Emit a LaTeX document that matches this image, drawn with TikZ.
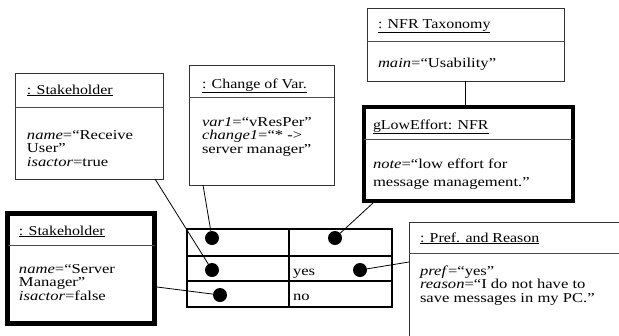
\documentclass[tikz,border=0pt]{standalone}
\usepackage{fontspec}
\setmainfont[FakeStretch=1.22]{Liberation Serif}
\newfontfamily\hdrfont[FakeStretch=1.17]{Liberation Serif}
\begin{document}
\begin{tikzpicture}[x=1pt,y=-1pt,
  obj/.style={draw=black!80, line width=0.9pt, inner sep=0pt, outer sep=0pt},
  thk/.style={draw=black, line width=4.5pt, inner sep=0pt, outer sep=0pt},
  hdr/.style={draw=black!70, line width=0.8pt},
  txt/.style={inner sep=0pt, outer sep=0pt, anchor=base west, font=\fontsize{13.6}{15}\selectfont},
  htxt/.style={txt, font=\fontsize{13.6}{15}\hdrfont},
  tbl/.style={draw=black, line width=2.2pt, inner sep=0pt, outer sep=0pt},
  tline/.style={draw=black, line width=2.2pt},
  dot/.style={circle, fill=black, inner sep=0pt, outer sep=0pt, minimum size=14pt},
  conn/.style={draw=black, line width=0.8pt}]
\useasboundingbox (0,0) rectangle (619,335);
\clip (0,0) rectangle (619,335);
\fill[white] (0,0) rectangle (619,335);

% Stakeholder (Receive User)
\node[obj, minimum width=148pt, minimum height=106pt] (sh1) at (89,126) {};
\draw[hdr] (sh1.west |- 0,107) -- (sh1.east |- 0,107);
\node[htxt] (sh1h) at (27,94) {\underline{: Stakeholder}};
\node[txt] (sh1a) at (27,139) {\textit{name}=“Receive};
\node[txt] (sh1b) at (27,152.5) {User”};
\node[txt] (sh1c) at (27,166) {\textit{isactor}=true};

% Change of Var.
\node[obj, minimum width=145pt, minimum height=120pt] (cov) at (261.5,125) {};
\draw[hdr] (cov.west |- 0,97) -- (cov.east |- 0,97);
\node[htxt] (covh) at (202,88) {\underline{: Change of Var.}};
\node[txt] (cova) at (202,126) {\textit{var1}=“vResPer”};
\node[txt] (covb) at (202,139.5) {\textit{change1}=“* ->};
\node[txt] (covc) at (202,153) {server manager”};

% NFR Taxonomy
\node[obj, minimum width=197pt, minimum height=73pt] (tax) at (465.5,44.5) {};
\draw[hdr] (tax.west |- 0,41) -- (tax.east |- 0,41);
\node[htxt] (taxh) at (378,28) {\underline{: NFR Taxonomy}};
\node[txt] (taxa) at (378,67) {\textit{main}=“Usability”};

% gLowEffort: NFR
\node[thk, minimum width=209pt, minimum height=94pt] (nfr) at (468.5,154) {};
\draw[hdr] (nfr.west |- 0,139) -- (nfr.east |- 0,139);
\node[htxt] (nfrh) at (373,129) {\underline{gLowEffort: NFR}};
\node[txt] (nfra) at (373,168) {\textit{note}=“low effort for};
\node[txt] (nfrb) at (373,186) {message management.”};

% Stakeholder (Server Manager)
\node[thk, minimum width=147pt, minimum height=110pt] (sh2) at (81,268.5) {};
\draw[hdr] (sh2.west |- 0,245) -- (sh2.east |- 0,245);
\node[htxt] (sh2h) at (19,235) {\underline{: Stakeholder}};
\node[txt] (sh2a) at (19,273) {\textit{name}=“Server};
\node[txt] (sh2b) at (19,286.5) {Manager”};
\node[txt] (sh2c) at (19,300) {\textit{isactor}=false};

% Pref. and Reason (runs off the picture)
\node[obj, minimum width=232pt, minimum height=140pt] (pref) at (525,292) {};
\draw[hdr] (pref.west |- 0,253) -- (pref.east |- 0,253);
\node[htxt] (prefh) at (420,242) {\underline{: Pref. and Reason}};
\node[txt] (prefa) at (420,275) {\textit{pref}=“yes”};
\node[txt] (prefb) at (420,288.5) {\textit{reason}=“I do not have to};
\node[txt] (prefc) at (420,302) {save messages in my PC.”};

% Table
\node[tbl, minimum width=205pt, minimum height=78pt] (tab) at (289.5,268) {};
\draw[tline] (tab.west |- 0,256) -- (tab.east |- 0,256);
\draw[tline] (tab.west |- 0,281) -- (tab.east |- 0,281);
\draw[tline] (tab.north -| 289,0) -- (tab.south -| 289,0);
\node[txt] (yes) at (293,275) {yes};
\node[txt] (no) at (293,300) {no};

% Dots
\node[dot] (d11) at (212,238) {};
\node[dot] (d12) at (335,238) {};
\node[dot] (d21) at (212,270) {};
\node[dot] (d22) at (360,270) {};
\node[dot] (d31) at (220,295) {};

% Connector end points on the boxes
\coordinate (sh1p) at (155,179);
\coordinate (covp) at (203,185);
\coordinate (nfrp) at (373,203);
\coordinate (prefp) at (409,262);
\coordinate (sh2p) at (157,287);

\draw[conn] (sh1p) -- (d21);
\draw[conn] (covp) -- (d11);
\draw[conn] (nfrp) -- (d12);
\draw[conn] (prefp) -- (d22);
\draw[conn] (sh2p) -- (d31);
\draw[conn] (tax.south) -- (tax.south |- nfr.north);
\end{tikzpicture}
\end{document}
